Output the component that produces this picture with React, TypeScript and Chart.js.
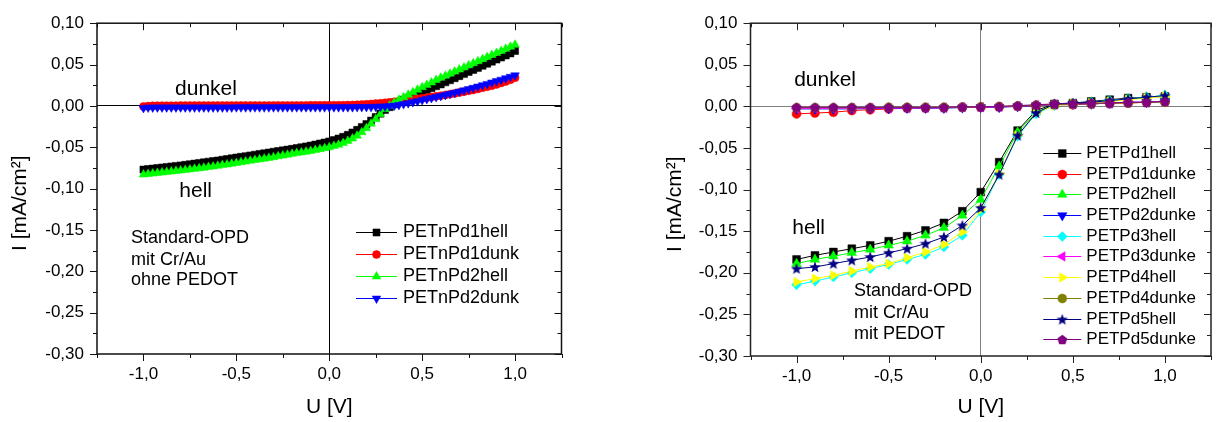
import React, { useEffect, useRef } from 'react';
import { Chart, registerables } from 'chart.js';
import { drawPoint } from 'chart.js/helpers';

Chart.register(...registerables);

const FONT = '"Liberation Sans", Arial, Helvetica, sans-serif';

// ---------- Left chart data (Standard-OPD mit Cr/Au ohne PEDOT) ----------
const U_LEFT = [-1.000,-0.975,-0.950,-0.925,-0.900,-0.875,-0.850,-0.825,-0.800,-0.775,-0.750,-0.725,-0.700,-0.675,-0.650,-0.625,-0.600,-0.575,-0.550,-0.525,-0.500,-0.475,-0.450,-0.425,-0.400,-0.375,-0.350,-0.325,-0.300,-0.275,-0.250,-0.225,-0.200,-0.175,-0.150,-0.125,-0.100,-0.075,-0.050,-0.025,0.000,0.025,0.050,0.075,0.100,0.125,0.150,0.175,0.200,0.225,0.250,0.275,0.300,0.325,0.350,0.375,0.400,0.425,0.450,0.475,0.500,0.525,0.550,0.575,0.600,0.625,0.650,0.675,0.700,0.725,0.750,0.775,0.800,0.825,0.850,0.875,0.900,0.925,0.950,0.975,1.000];

const PETnPd1hell = [-0.0770,-0.0764,-0.0758,-0.0751,-0.0745,-0.0739,-0.0732,-0.0726,-0.0720,-0.0713,-0.0705,-0.0698,-0.0690,-0.0683,-0.0675,-0.0668,-0.0660,-0.0651,-0.0643,-0.0634,-0.0625,-0.0616,-0.0608,-0.0599,-0.0590,-0.0581,-0.0573,-0.0564,-0.0555,-0.0546,-0.0538,-0.0529,-0.0520,-0.0510,-0.0500,-0.0490,-0.0480,-0.0468,-0.0455,-0.0443,
  -0.0430,
  -0.0413,-0.0395,-0.0374,-0.0350,-0.0322,-0.0290,-0.0256,-0.0220,-0.0178,-0.0135,-0.0093,-0.0050,-0.0015,0.0020,0.0048,0.0075,0.0098,0.0120,0.0145,0.0170,0.0192,0.0215,0.0238,0.0260,0.0285,0.0310,0.0335,0.0360,0.0385,0.0410,0.0435,0.0460,0.0485,0.0510,0.0535,0.0560,0.0585,0.0610,0.0635,0.0665];

const PETnPd1dunk = [-0.0008,-0.0002,0.0002,0.0003,0.0003,0.0003,0.0003,0.0003,0.0004,0.0004,0.0004,0.0004,0.0004,0.0004,0.0004,0.0004,0.0004,0.0005,0.0005,0.0005,0.0005,0.0005,0.0005,0.0005,0.0005,0.0005,0.0005,0.0005,0.0006,0.0006,0.0006,0.0006,0.0006,0.0006,0.0006,0.0006,0.0007,0.0007,0.0007,0.0007,
  0.0008,
  0.0008,0.0009,0.0009,0.0010,0.0012,0.0014,0.0017,0.0020,0.0024,0.0028,0.0033,0.0038,0.0044,0.0050,0.0057,0.0064,0.0071,0.0078,0.0085,0.0093,0.0100,0.0108,0.0116,0.0124,0.0133,0.0142,0.0151,0.0161,0.0171,0.0182,0.0193,0.0205,0.0218,0.0231,0.0245,0.0260,0.0277,0.0295,0.0315,0.0340];

const PETnPd2hell = [-0.0830,-0.0824,-0.0818,-0.0811,-0.0805,-0.0799,-0.0793,-0.0786,-0.0780,-0.0774,-0.0768,-0.0761,-0.0755,-0.0748,-0.0740,-0.0733,-0.0725,-0.0716,-0.0708,-0.0699,-0.0690,-0.0681,-0.0673,-0.0664,-0.0655,-0.0646,-0.0638,-0.0629,-0.0620,-0.0610,-0.0600,-0.0590,-0.0580,-0.0571,-0.0563,-0.0554,-0.0545,-0.0534,-0.0523,-0.0511,
  -0.0500,
  -0.0485,-0.0470,-0.0450,-0.0425,-0.0395,-0.0360,-0.0318,-0.0270,-0.0215,-0.0160,-0.0100,-0.0040,0.0003,0.0040,0.0073,0.0105,0.0135,0.0165,0.0195,0.0225,0.0254,0.0283,0.0312,0.0340,0.0365,0.0390,0.0415,0.0440,0.0465,0.0490,0.0515,0.0540,0.0565,0.0590,0.0615,0.0640,0.0665,0.0690,0.0715,0.0740];

const PETnPd2dunk = [-0.0025,-0.0020,-0.0019,-0.0018,-0.0018,-0.0018,-0.0018,-0.0018,-0.0018,-0.0018,-0.0018,-0.0018,-0.0018,-0.0018,-0.0018,-0.0018,-0.0018,-0.0018,-0.0018,-0.0018,-0.0017,-0.0017,-0.0017,-0.0017,-0.0017,-0.0017,-0.0017,-0.0017,-0.0017,-0.0017,-0.0016,-0.0016,-0.0016,-0.0016,-0.0016,-0.0016,-0.0016,-0.0016,-0.0016,-0.0016,
  -0.0016,
  -0.0016,-0.0016,-0.0015,-0.0015,-0.0015,-0.0014,-0.0014,-0.0013,-0.0012,-0.0011,-0.0009,-0.0006,-0.0002,0.0004,0.0012,0.0022,0.0033,0.0045,0.0057,0.0070,0.0083,0.0095,0.0107,0.0120,0.0133,0.0146,0.0160,0.0174,0.0188,0.0203,0.0218,0.0234,0.0250,0.0266,0.0283,0.0300,0.0317,0.0334,0.0352,0.0370];

// ---------- Right chart data (Standard-OPD mit Cr/Au mit PEDOT) ----------
const U_RIGHT = [-1.0,-0.9,-0.8,-0.7,-0.6,-0.5,-0.4,-0.3,-0.2,-0.1,0.0,0.1,0.2,0.3,0.4,0.5,0.6,0.7,0.8,0.9,1.0];

const PETPd1hell  = [-0.184,-0.179,-0.175,-0.171,-0.167,-0.162,-0.156,-0.149,-0.140,-0.126,-0.103,-0.067,-0.029,-0.005,0.003,0.004,0.006,0.008,0.010,0.011,0.012];
const PETPd1dunke = [-0.009,-0.008,-0.007,-0.005,-0.004,-0.003,-0.002,-0.002,-0.0015,-0.001,-0.001,-0.0005,0.0,0.001,0.002,0.002,0.003,0.004,0.004,0.005,0.006];
const PETPd2hell  = [-0.189,-0.184,-0.180,-0.176,-0.172,-0.167,-0.162,-0.155,-0.146,-0.131,-0.112,-0.072,-0.031,-0.007,0.002,0.003,0.005,0.007,0.009,0.011,0.013];
const PETPd2dunke = [-0.003,-0.003,-0.003,-0.003,-0.0025,-0.0025,-0.002,-0.002,-0.002,-0.0015,-0.001,-0.001,0.0,0.001,0.002,0.003,0.003,0.004,0.005,0.005,0.006];
const PETPd3hell  = [-0.2145,-0.210,-0.205,-0.200,-0.195,-0.190,-0.184,-0.178,-0.169,-0.155,-0.127,-0.082,-0.036,-0.009,0.001,0.003,0.005,0.007,0.009,0.011,0.013];
const PETPd3dunke = [-0.0025,-0.0025,-0.0025,-0.002,-0.002,-0.002,-0.002,-0.0015,-0.0015,-0.001,-0.001,-0.0005,0.0005,0.0015,0.002,0.003,0.003,0.004,0.005,0.005,0.006];
const PETPd4hell  = [-0.211,-0.207,-0.203,-0.198,-0.193,-0.189,-0.182,-0.175,-0.166,-0.151,-0.124,-0.081,-0.035,-0.008,0.001,0.003,0.004,0.006,0.008,0.010,0.012];
const PETPd4dunke = [-0.0015,-0.0015,-0.0015,-0.0015,-0.0015,-0.001,-0.001,-0.001,-0.001,-0.001,-0.0005,0.0,0.0005,0.0015,0.002,0.003,0.003,0.004,0.004,0.005,0.005];
const PETPd5hell  = [-0.195,-0.193,-0.189,-0.185,-0.181,-0.176,-0.171,-0.165,-0.157,-0.143,-0.122,-0.082,-0.035,-0.008,0.003,0.004,0.005,0.007,0.009,0.011,0.013];
const PETPd5dunke = [-0.001,-0.001,-0.001,-0.001,-0.001,-0.001,-0.001,-0.001,-0.001,-0.0005,-0.0005,0.0,0.001,0.002,0.003,0.003,0.004,0.004,0.005,0.005,0.006];

// ---------- Axis ticks ----------
const X_MAJOR = [-1.0, -0.5, 0.0, 0.5, 1.0];
const X_MINOR = [-1.25, -0.75, -0.25, 0.25, 0.75, 1.25];
const Y_MAJOR = [-0.30, -0.25, -0.20, -0.15, -0.10, -0.05, 0.00, 0.05, 0.10];
const Y_MINOR = [-0.275, -0.225, -0.175, -0.125, -0.075, -0.025, 0.025, 0.075];

const LEFT_TEXT = ['Standard-OPD', 'mit Cr/Au', 'ohne PEDOT'];
const RIGHT_TEXT = ['Standard-OPD', 'mit Cr/Au', 'mit PEDOT'];

function makeShape(kind: 'star' | 'pentagon', color: string, size: number) {
  const c = document.createElement('canvas');
  c.width = size; c.height = size;
  const g = c.getContext('2d')!;
  const cx = size / 2, cy = size / 2;
  g.fillStyle = color;
  g.beginPath();
  if (kind === 'star') {
    const R = size / 2, r = R * 0.42;
    for (let k = 0; k < 10; k++) {
      const rad = k % 2 === 0 ? R : r;
      const a = -Math.PI / 2 + (k * Math.PI) / 5;
      const px = cx + rad * Math.cos(a), py = cy + rad * Math.sin(a) + 0.4;
      if (k === 0) g.moveTo(px, py); else g.lineTo(px, py);
    }
  } else {
    const R = size / 2 - 0.3;
    for (let k = 0; k < 5; k++) {
      const a = -Math.PI / 2 + (k * 2 * Math.PI) / 5;
      const px = cx + R * Math.cos(a), py = cy + R * Math.sin(a) + 0.5;
      if (k === 0) g.moveTo(px, py); else g.lineTo(px, py);
    }
  }
  g.closePath();
  g.fill();
  return c;
}

type Style = { label: string; values: number[]; color: string; style: any; rot: number; r: number };

function buildDatasets(u: number[], series: Style[]) {
  const n = series.length;
  return series.map((s, i) => ({
    label: s.label,
    data: u.map((x, k) => ({ x, y: s.values[k] })),
    showLine: true,
    borderColor: s.color,
    backgroundColor: s.color,
    borderWidth: 1,
    pointStyle: s.style,
    pointRotation: s.rot,
    pointRadius: s.r,
    pointBorderWidth: 0.5,
    pointBorderColor: s.color,
    pointBackgroundColor: s.color,
    order: n - i,
  }));
}

const fmtX = (v: number) => (Math.round(v * 10) / 10).toFixed(1).replace('.', ',');
const fmtY = (v: number) => (Math.round(v * 100) / 100).toFixed(2).replace('.', ',').replace('-0,00', '0,00');

type Overlay = {
  frame: string;
  texts: { t: string; x: number; y: number; size: number }[];
  legend: { x0: number; y0: number; dy: number; len: number; gap: number; size: number };
};

function makeOverlay(cfg: Overlay) {
  return {
    id: 'overlay',
    afterDraw(chart: any) {
      const { ctx, chartArea: a } = chart;
      const xs = chart.scales.x, ys = chart.scales.y;
      const seg = (x1: number, y1: number, x2: number, y2: number) => {
        ctx.beginPath(); ctx.moveTo(x1, y1); ctx.lineTo(x2, y2); ctx.stroke();
      };
      ctx.save();
      ctx.strokeStyle = cfg.frame;
      ctx.lineWidth = 1;
      X_MAJOR.forEach((v) => { const p = Math.round(xs.getPixelForValue(v)) + 0.5; seg(p, a.bottom, p, a.bottom + 7); seg(p, a.top, p, a.top + 7); });
      X_MINOR.forEach((v) => { const p = Math.round(xs.getPixelForValue(v)) + 0.5; seg(p, a.bottom, p, a.bottom + 4); seg(p, a.top, p, a.top + 4); });
      Y_MAJOR.forEach((v) => { const p = Math.round(ys.getPixelForValue(v)) + 0.5; seg(a.left - 7, p, a.left, p); seg(a.right - 7, p, a.right, p); });
      Y_MINOR.forEach((v) => { const p = Math.round(ys.getPixelForValue(v)) + 0.5; seg(a.left - 4, p, a.left, p); seg(a.right - 4, p, a.right, p); });
      ctx.lineWidth = 1.5;
      ctx.strokeRect(a.left, a.top, a.right - a.left, a.bottom - a.top);

      ctx.fillStyle = '#000';
      ctx.textAlign = 'left';
      ctx.textBaseline = 'middle';
      cfg.texts.forEach((t) => {
        ctx.font = `${t.size}px ${FONT}`;
        ctx.fillText(t.t, xs.getPixelForValue(t.x), ys.getPixelForValue(t.y));
      });

      const L = cfg.legend;
      chart.data.datasets.forEach((ds: any, k: number) => {
        const y = Math.round(a.top + L.y0 + k * L.dy) + 0.5;
        const x0 = a.left + L.x0;
        ctx.strokeStyle = ds.borderColor;
        ctx.lineWidth = 1;
        seg(x0, y, x0 + L.len, y);
        ctx.fillStyle = ds.backgroundColor;
        ctx.lineWidth = 0.5;
        drawPoint(ctx, { pointStyle: ds.pointStyle, rotation: ds.pointRotation, radius: ds.pointRadius, borderWidth: 0.5 } as any, x0 + L.len / 2, y);
        ctx.fillStyle = '#000';
        ctx.font = `${L.size}px ${FONT}`;
        ctx.fillText(ds.label, x0 + L.len + L.gap, y);
      });
      ctx.restore();
    },
  };
}

function makeConfig(datasets: any[], opts: { padLeft: number; padRight: number; xHeight: number; yTitlePad: number; zero: string; overlay: Overlay }) {
  return {
    type: 'scatter',
    data: { datasets },
    options: {
      animation: false,
      responsive: false,
      devicePixelRatio: 1,
      events: [],
      layout: { padding: { left: opts.padLeft, right: opts.padRight, top: 16, bottom: 0 } },
      plugins: { legend: { display: false }, tooltip: { enabled: false } },
      scales: {
        x: {
          type: 'linear',
          min: -1.25,
          max: 1.25,
          afterBuildTicks: (s: any) => { s.ticks = X_MAJOR.map((v) => ({ value: v })); },
          afterFit: (s: any) => { s.height = opts.xHeight; },
          ticks: { callback: (v: any) => fmtX(Number(v)), color: '#000', font: { family: FONT, size: 17 }, padding: 10, maxRotation: 0, autoSkip: false },
          grid: { drawTicks: false, color: (c: any) => (c.tick && Math.abs(c.tick.value) < 1e-9 ? opts.zero : 'rgba(0,0,0,0)'), lineWidth: 1 },
          border: { display: false },
          title: { display: true, text: 'U [V]', color: '#000', font: { family: FONT, size: 21 }, padding: { top: 0, bottom: 2 } },
        },
        y: {
          type: 'linear',
          min: -0.30,
          max: 0.10,
          afterBuildTicks: (s: any) => { s.ticks = Y_MAJOR.map((v) => ({ value: v })); },
          afterFit: (s: any) => { s.width = 97; },
          ticks: { callback: (v: any) => fmtY(Number(v)), color: '#000', font: { family: FONT, size: 17 }, padding: 13, autoSkip: false },
          grid: { drawTicks: false, color: (c: any) => (c.tick && Math.abs(c.tick.value) < 1e-9 ? opts.zero : 'rgba(0,0,0,0)'), lineWidth: 1 },
          border: { display: false },
          title: { display: true, text: 'I [mA/cm²]     ', color: '#000', font: { family: FONT, size: 21 }, padding: { top: opts.yTitlePad, bottom: 0 } },
        },
      },
    },
    plugins: [makeOverlay(opts.overlay)],
  } as any;
}

function ChartBox({ left, width, make }: { left: number; width: number; make: () => any }) {
  const ref = useRef<HTMLCanvasElement>(null);
  useEffect(() => {
    const chart = new Chart(ref.current!, make());
    return () => chart.destroy();
  }, []);
  return <canvas ref={ref} width={width} height={422} style={{ position: 'absolute', left, top: 0, width, height: 422 }} />;
}

function leftConfig() {
  const series: Style[] = [
    { label: 'PETnPd1hell', values: PETnPd1hell, color: '#000000', style: 'rect', rot: 0, r: 5 },
    { label: 'PETnPd1dunk', values: PETnPd1dunk, color: '#FF0000', style: 'circle', rot: 0, r: 4 },
    { label: 'PETnPd2hell', values: PETnPd2hell, color: '#00FF00', style: 'triangle', rot: 0, r: 5 },
    { label: 'PETnPd2dunk', values: PETnPd2dunk, color: '#0000FF', style: 'triangle', rot: 180, r: 5 },
  ];
  const texts = [
    { t: 'dunkel', x: -0.83, y: 0.0197, size: 21 },
    { t: 'hell', x: -0.807, y: -0.103, size: 21 },
    { t: LEFT_TEXT[0], x: -1.067, y: -0.160, size: 18 },
    { t: LEFT_TEXT[1], x: -1.067, y: -0.186, size: 18 },
    { t: LEFT_TEXT[2], x: -1.067, y: -0.211, size: 18 },
  ];
  return makeConfig(buildDatasets(U_LEFT, series), {
    padLeft: 0, padRight: 58.5, xHeight: 68, yTitlePad: 8, zero: '#000000',
    overlay: { frame: '#111111', texts, legend: { x0: 259, y0: 209, dy: 22, len: 41, gap: 6, size: 18 } },
  });
}

function rightConfig() {
  const star = makeShape('star', '#000080', 12);
  const pent = makeShape('pentagon', '#800080', 11);
  const series: Style[] = [
    { label: 'PETPd1hell', values: PETPd1hell, color: '#000000', style: 'rect', rot: 0, r: 5.5 },
    { label: 'PETPd1dunke', values: PETPd1dunke, color: '#FF0000', style: 'circle', rot: 0, r: 4.5 },
    { label: 'PETPd2hell', values: PETPd2hell, color: '#00FF00', style: 'triangle', rot: 0, r: 5.5 },
    { label: 'PETPd2dunke', values: PETPd2dunke, color: '#0000FF', style: 'triangle', rot: 180, r: 5.5 },
    { label: 'PETPd3hell', values: PETPd3hell, color: '#00FFFF', style: 'rectRot', rot: 0, r: 5 },
    { label: 'PETPd3dunke', values: PETPd3dunke, color: '#FF00FF', style: 'triangle', rot: -90, r: 5.5 },
    { label: 'PETPd4hell', values: PETPd4hell, color: '#FFFF00', style: 'triangle', rot: 90, r: 5.5 },
    { label: 'PETPd4dunke', values: PETPd4dunke, color: '#808000', style: 'circle', rot: 0, r: 4.5 },
    { label: 'PETPd5hell', values: PETPd5hell, color: '#000080', style: star, rot: 0, r: 5.5 },
    { label: 'PETPd5dunke', values: PETPd5dunke, color: '#800080', style: pent, rot: 0, r: 5.5 },
  ];
  const texts = [
    { t: 'dunkel', x: -1.013, y: 0.0318, size: 21 },
    { t: 'hell', x: -1.023, y: -0.146, size: 21 },
    { t: RIGHT_TEXT[0], x: -0.688, y: -0.222, size: 18 },
    { t: RIGHT_TEXT[1], x: -0.688, y: -0.248, size: 18 },
    { t: RIGHT_TEXT[2], x: -0.688, y: -0.273, size: 18 },
  ];
  return makeConfig(buildDatasets(U_RIGHT, series), {
    padLeft: 33.5, padRight: 2, xHeight: 66, yTitlePad: 9.5, zero: '#808080',
    overlay: { frame: '#222222', texts, legend: { x0: 292.8, y0: 129.7, dy: 20.7, len: 38, gap: 5, size: 17 } },
  });
}

export default function App() {
  return (
    <div style={{ position: 'absolute', left: 0, top: 0, width: 1217, height: 422, background: '#fff', overflow: 'hidden' }}>
      <ChartBox left={0} width={620} make={leftConfig} />
      <ChartBox left={620} width={597} make={rightConfig} />
    </div>
  );
}
